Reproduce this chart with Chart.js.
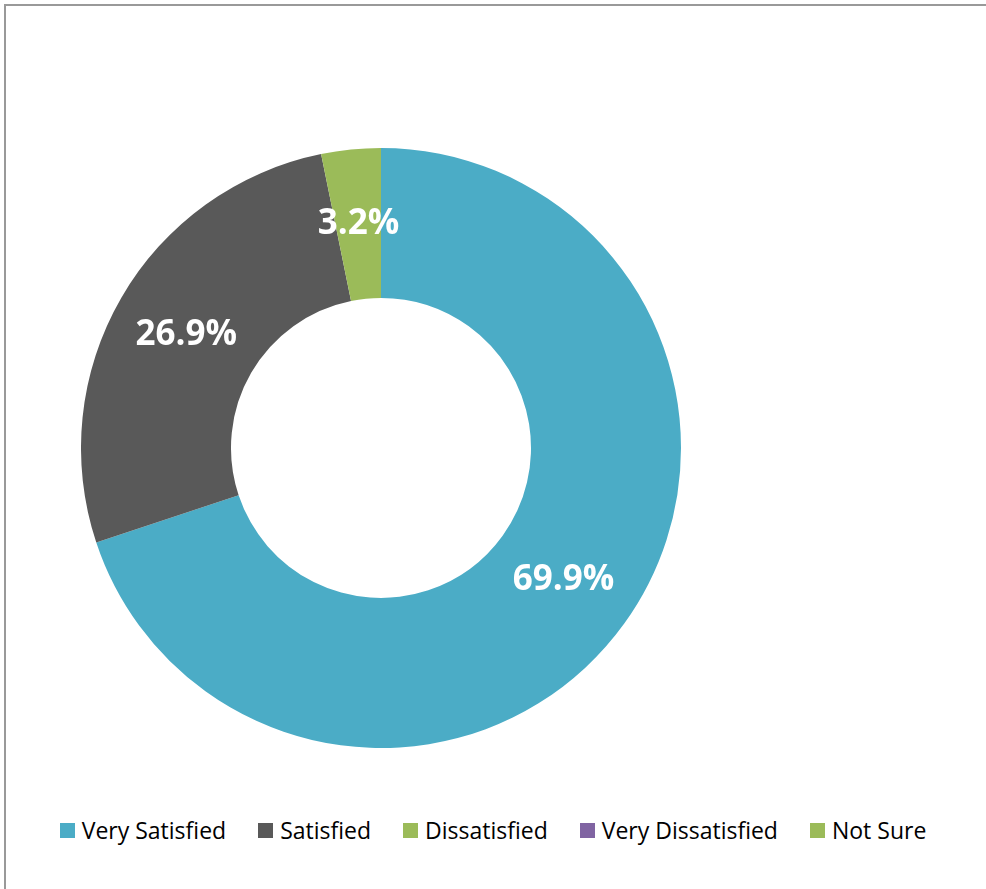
<!DOCTYPE html>
<html>
<head>
<meta charset="utf-8">
<script src="https://cdn.jsdelivr.net/npm/chart.js@4.4.1/dist/chart.umd.min.js"></script>
<style>
    html, body {
        margin: 0;
        padding: 0;
        background: #fff;
        width: 986px;
        height: 889px;
        overflow: hidden;
        font-family: "Open Sans", sans-serif;
    }
    .frame {
        position: absolute;
        left: 4px;
        top: 4px;
        width: 1200px;
        height: 1200px;
        border-left: 2px solid #999;
        border-top: 2px solid #999;
    }
    .chart-box {
        position: absolute;
        left: 81px;
        top: 148px;
        width: 600px;
        height: 600px;
    }
    #legend {
        position: absolute;
        left: 0;
        top: 814px;
        width: 986px;
        display: flex;
        justify-content: center;
        align-items: center;
        font-size: 23px;
        color: #000;
    }
    .legend-item {
        display: flex;
        align-items: center;
        margin: 0 16px;
    }
    .legend-swatch {
        width: 15px;
        height: 15px;
        margin-right: 7px;
    }
</style>
</head>
<body>
<div class="frame"></div>
<div class="chart-box"><canvas id="satisfactionChart"></canvas></div>
<div id="legend"></div>

<script>
/**=================
 * Data
 =================*/
const categories = ['Very Satisfied', 'Satisfied', 'Dissatisfied', 'Very Dissatisfied', 'Not Sure'];
const percentages = [69.9, 26.9, 0, 0, 3.2];
const sliceColors = ['#4BACC6', '#595959', '#9BBB59', '#8064A2', '#9BBB59'];

/**=================
 * Slice labels
 =================*/
const sliceLabels = {
    id: 'sliceLabels',
    afterDatasetsDraw(chart) {
        const ctx = chart.ctx;
        const meta = chart.getDatasetMeta(0);
        ctx.save();
        ctx.fillStyle = '#fff';
        ctx.font = 'bold 35px "Open Sans", sans-serif';
        ctx.textAlign = 'center';
        ctx.textBaseline = 'middle';
        meta.data.forEach((arc, i) => {
            const value = chart.data.datasets[0].data[i];
            if (!value) return;
            const pos = arc.tooltipPosition();
            ctx.fillText(`${value.toFixed(1)}%`, pos.x, pos.y);
        });
        ctx.restore();
    }
};

/**=================
 * Doughnut chart
 =================*/
const ctx = document.getElementById('satisfactionChart');
const satisfactionChart = new Chart(ctx, {
    type: 'doughnut',
    data: {
        labels: categories,
        datasets: [{
            data: percentages,
            backgroundColor: sliceColors,
            borderWidth: 0
        }]
    },
    options: {
        responsive: true,
        maintainAspectRatio: false,
        animation: false,
        cutout: '50%',
        layout: {
            padding: 0
        },
        plugins: {
            legend: {
                display: false
            },
            tooltip: {
                enabled: false
            }
        }
    },
    plugins: [sliceLabels]
});

/**=================
 * Legend
 =================*/
const legendEl = document.getElementById('legend');
const items = Chart.overrides.doughnut.plugins.legend.labels.generateLabels(satisfactionChart);
items.forEach(item => {
    const div = document.createElement('div');
    div.className = 'legend-item';
    div.innerHTML = `
        <span class="legend-swatch" style="background:${item.fillStyle}"></span>
        <span>${item.text}</span>
    `;
    legendEl.appendChild(div);
});
</script>
</body>
</html>
